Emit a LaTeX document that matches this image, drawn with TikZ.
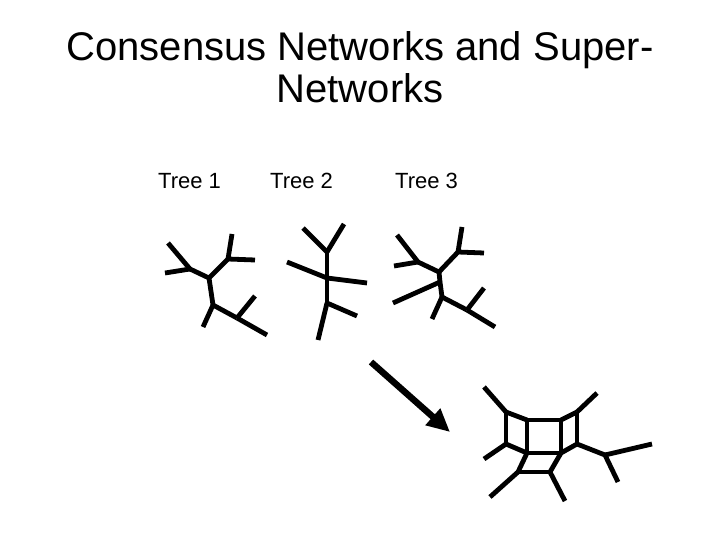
\documentclass[tikz,border=0pt]{standalone}
\usepackage{fontspec}
\setmainfont{Liberation Sans}
\usetikzlibrary{arrows.meta}
\tikzset{
  titlefont/.style={font=\fontsize{40}{43}\selectfont},
  lblfont/.style={font=\fontsize{22}{24}\selectfont},
  edge/.style={line width=4.8pt, black},
  bigarr/.style={line width=6.5pt, -{Triangle[length=23pt, width=21pt]}},
}
\begin{document}
\begin{tikzpicture}[x=1pt, y=-1pt,
    lbl/.style={lblfont, anchor=base west, inner sep=0pt},
    ttl/.style={titlefont, anchor=base, inner sep=0pt}
]
  \useasboundingbox[fill=white] (0,0) rectangle (720,540);

  \node[ttl] (title1) at (360,61) {Consensus Networks and Super-};
  \node[ttl] (title2) at (360,103) {Networks};

  \node[lbl] (lbl1) at (158,189) {Tree 1};
  \node[lbl] (lbl2) at (270,189) {Tree 2};
  \node[lbl] (lbl3) at (395,189) {Tree 3};

  % tree 1
  \foreach \n/\x/\y in {a1/190/269, b1/209/278, c1/228/259, d1/213/305, e1/237/318,
      la1/168/243, lb1/165/273, lc1/232/234, ld1/255/260, le1/203/327, lf1/255/296, lg1/267/335}
    \coordinate (\n) at (\x,\y);
  \foreach \u/\v in {a1/b1, b1/c1, b1/d1, d1/e1, la1/a1, lb1/a1, lc1/c1, ld1/c1, le1/d1, lf1/e1, lg1/e1}
    \draw[edge] (\u) -- (\v);

  % tree 2
  \foreach \n/\x/\y in {f2/327/252, g2/327/278, h2/327/303,
      la2/303/228, lb2/344/224, lc2/287/262, ld2/367/283, le2/357/316, lf2/318/340}
    \coordinate (\n) at (\x,\y);
  \foreach \u/\v in {f2/g2, g2/h2, la2/f2, lb2/f2, lc2/g2, ld2/g2, le2/h2, lf2/h2}
    \draw[edge] (\u) -- (\v);

  % tree 3
  \foreach \n/\x/\y in {a3/418/262, b3/439/272, m3/440/282, c3/458/252, d3/442/297, e3/467/310,
      la3/397/235, lb3/394/266, lc3/462/227, ld3/484/253, le3/393/303, lf3/432/319,
      lg3/484/288, lh3/495/327}
    \coordinate (\n) at (\x,\y);
  \foreach \u/\v in {a3/b3, b3/c3, b3/m3, m3/d3, d3/e3, la3/a3, lb3/a3, lc3/c3, ld3/c3,
      le3/m3, lf3/d3, lg3/e3, lh3/e3}
    \draw[edge] (\u) -- (\v);

  % super-network
  \foreach \n/\x/\y in {p1/506/412, p2/506/444, q1/527/420, q2/561/420, q3/561/453, q4/527/453,
      r1/577/412, r2/577/444, s1/605/455, t1/518/472, t2/550/472,
      lp1/484/387, lp2/484/459, lr1/597/393, ls1/652/444, ls2/618/482, lt1/490/497, lt2/565/501}
    \coordinate (\n) at (\x,\y);
  \foreach \u/\v in {p1/p2, p1/q1, p2/q4, q1/q2, q2/q3, q3/q4, q4/q1, q2/r1, r1/r2, r2/q3,
      r2/s1, q4/t1, q3/t2, t1/t2, lp1/p1, lp2/p2, lr1/r1, ls1/s1, ls2/s1, lt1/t1, lt2/t2}
    \draw[edge] (\u) -- (\v);

  \coordinate (arrS) at (371,362);
  \coordinate (arrE) at (450,432);
  \draw[bigarr] (arrS) -- (arrE);
\end{tikzpicture}
\end{document}
